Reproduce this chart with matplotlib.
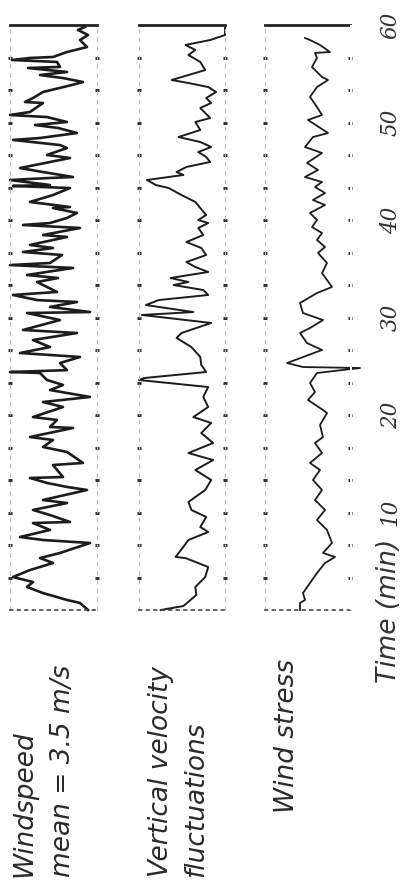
import matplotlib
matplotlib.use("Agg")
import matplotlib.pyplot as plt
import numpy as np

# ---------------- data ----------------
# time in minutes, values: windspeed (m/s), vertical velocity fluct. (arb.), wind stress (arb.)
ws_time = [0.0, 0.72, 1.03, 1.74, 2.36, 2.87, 3.38, 4.10, 4.82, 5.33, 5.85, 6.87, 7.18, 7.49,
           8.21, 8.92, 9.03, 9.74, 10.26, 10.97, 11.28, 12.31, 12.62, 13.03, 13.54, 13.64,
           14.87, 15.08, 16.21, 16.72, 17.44, 17.74, 18.67, 18.77, 19.49, 19.79, 20.82, 21.33,
           21.85, 22.56, 23.08, 23.59, 24.31, 24.41, 24.60, 25.33, 25.95, 26.36, 26.97, 27.69,
           28.41, 28.72, 29.74, 30.46, 30.56, 31.08, 31.59, 31.79, 32.31, 32.62, 33.64, 34.05,
           34.36, 35.08, 35.38, 35.59, 36.41, 36.72, 37.13, 37.44, 38.26, 38.46, 39.18, 39.49,
           39.69, 40.21, 40.72, 41.23, 41.33, 41.85, 42.56, 43.28, 43.49, 43.59, 44.10, 44.31,
           44.41, 44.92, 45.33, 46.36, 46.67, 47.38, 47.69, 48.21, 48.41, 48.92, 49.44, 49.74,
           50.05, 50.56, 50.77, 51.08, 52.00, 52.10, 52.51, 53.13, 53.85, 54.15, 54.56, 54.87,
           55.18, 55.59, 55.70, 56.21, 56.41, 56.62, 56.72, 57.23, 57.74, 58.46, 58.97, 59.49,
           59.80]
windspeed = [2.45, 2.69, 3.08, 3.80, 4.28, 4.10, 4.70, 4.19, 3.50, 3.89, 3.29, 2.39, 3.80, 4.49,
             3.59, 4.10, 2.99, 3.59, 4.10, 3.08, 3.80, 2.48, 3.08, 3.68, 4.19, 3.20,
             3.50, 2.60, 3.08, 3.80, 3.50, 4.19, 2.90, 3.59, 3.38, 4.10, 3.20, 3.80,
             2.39, 3.59, 3.20, 3.68, 3.89, 4.79, 3.08, 3.29, 2.69, 4.49, 3.59, 4.10,
             2.78, 4.40, 3.29, 4.28, 2.39, 3.59, 2.78, 3.98, 4.70, 3.38, 3.98, 3.35,
             4.28, 2.90, 4.79, 3.59, 3.23, 4.40, 3.50, 4.19, 3.08, 3.80, 2.69, 4.40,
             3.59, 3.08, 2.78, 3.50, 2.99, 4.19, 3.50, 2.99, 4.70, 3.59, 4.79, 3.59,
             2.90, 3.80, 4.49, 2.99, 3.68, 3.08, 3.29, 4.70, 3.89, 2.78, 3.35, 4.04,
             3.08, 3.68, 4.79, 4.19, 3.80, 4.34, 4.10, 3.80, 2.93, 2.60, 3.20, 3.89,
             3.08, 4.25, 3.29, 3.38, 4.73, 4.19, 3.50, 3.08, 2.48, 2.69, 2.45, 2.75,
             2.54]

vv_time = [0.0, 0.41, 1.54, 2.36, 3.38, 4.41, 5.33, 5.44, 6.36, 7.18, 8.00, 8.51, 9.54, 10.26,
           11.08, 12.31, 13.33, 14.36, 15.38, 16.10, 17.13, 18.15, 19.18, 19.79, 20.82, 21.85,
           22.87, 23.59, 23.79, 24.41, 25.13, 25.95, 26.97, 27.90, 28.41, 29.44, 30.26, 30.56,
           31.28, 31.79, 32.31, 32.82, 33.33, 33.64, 34.05, 34.67, 35.18, 35.69, 36.41, 37.13,
           37.74, 38.46, 39.18, 39.69, 40.00, 40.51, 41.23, 41.85, 42.56, 43.28, 43.59, 44.10,
           44.62, 44.92, 45.44, 45.95, 46.46, 46.97, 47.49, 48.00, 48.51, 49.23, 50.05, 50.46,
           50.97, 51.49, 52.00, 52.51, 53.13, 53.64, 54.05, 54.36, 55.08, 55.38, 56.21, 56.92,
           57.44, 57.95, 58.46, 58.97, 59.70]
vertical_velocity = [1.5, 0.35, -0.3, -0.25, -0.75, -0.9, 0.25, 0.75, 0.4, 0.1, -0.9, -0.5, -0.8, -0.05,
                     0.1, -0.75, -1.05, -0.25, -1.15, 0.1, -1.15, -0.55, -1.05, -0.15, -0.9, -0.65,
                     -0.9, 2.6, 2.35, -0.8, -0.55, -0.5, -0.05, 0.7, 0.45, -1.05, 2.45, -0.15,
                     2.25, 1.6, -0.9, -0.65, 0.85, 0.1, 1.0, -0.9, -0.25, 0.2, -0.8, -0.55,
                     0.2, -0.65, -0.4, -0.9, -0.4, -0.8, -0.5, -0.25, 0.45, 1.1, 1.75, 2.2,
                     0.35, 0.7, 0.2, -1.0, -0.8, -0.4, -1.05, -0.5, 0.6, -0.5, -0.25, -1.0,
                     -0.75, -0.5, -1.05, -0.8, -1.3, -0.9, 0.1, 0.95, -0.25, -0.75, -0.5, 0.1,
                     -0.25, 0.25, -1.0, -1.75, -1.75]

st_time = [0.0, 0.72, 1.03, 1.74, 2.77, 3.79, 4.82, 5.44, 5.85, 6.87, 8.21, 9.23, 10.26, 11.28,
           12.31, 13.33, 14.36, 15.08, 16.10, 17.13, 17.74, 18.97, 20.20, 20.51, 21.54, 22.36,
           23.28, 24.31, 24.82, 24.92, 25.33, 26.67, 27.38, 28.41, 28.92, 29.74, 30.46, 31.49,
           32.51, 33.13, 34.56, 35.59, 36.62, 37.23, 37.95, 38.67, 39.28, 40.00, 40.72, 41.54,
           42.05, 42.77, 43.38, 43.90, 44.41, 45.13, 45.85, 46.87, 47.49, 48.51, 48.92, 50.26,
           50.77, 51.59, 52.62, 53.64, 54.36, 54.67, 55.69, 56.62, 57.13, 57.23, 57.95, 58.46,
           58.67]
wind_stress = [0.45, 0.45, 0.40, 0.42, 0.35, 0.28, 0.20, 0.10, 0.22, 0.13, 0.18, 0.28, 0.20, 0.30,
               0.23, 0.32, 0.25, 0.35, 0.23, 0.30, 0.22, 0.25, 0.18, 0.22, 0.37, 0.30,
               0.35, 0.28, -0.15, 0.42, 0.58, 0.23, 0.38, 0.45, 0.35, 0.22, 0.42, 0.45,
               0.28, 0.13, 0.23, 0.18, 0.27, 0.20, 0.28, 0.23, 0.33, 0.28, 0.35, 0.20,
               0.32, 0.20, 0.30, 0.23, 0.40, 0.27, 0.38, 0.23, 0.40, 0.32, 0.17, 0.37,
               0.23, 0.28, 0.35, 0.28, 0.17, 0.23, 0.33, 0.28, 0.30, 0.15, 0.25, 0.35,
               0.40]

time_ticks = [10, 20, 30, 40, 50, 60]
time_tick_labels = ["10", "20", "30", "40", "50", "60"]
grid_marks = [k * 10 / 3 for k in range(1, 18)]

panel_labels = [["Windspeed", "mean = 3.5 m/s"], ["Vertical velocity", "fluctuations"], ["Wind stress"]]

# ---------------- figure ----------------
W, H = 403, 882
fig = plt.figure(figsize=(W / 100, H / 100), dpi=100)
fig.patch.set_facecolor("white")

def px_axes(x0, x1, ytop=25, ybot=610):
    return fig.add_axes([x0 / W, 1 - ybot / H, (x1 - x0) / W, (ybot - ytop) / H])

ink = "#1c1c1c"
panels = [
    (10, 97, ws_time, windspeed, (4.79, 2.18), 1.9),
    (139, 225, vv_time, vertical_velocity, (2.6, -1.75), 1.4),
    (265, 350, st_time, wind_stress, (0.80, -0.05), 1.3),
]
axes = []
for x0, x1, t, v, xl, lw in panels:
    ax = px_axes(x0, x1)
    ax.plot(v, t, color=ink, lw=lw, solid_joinstyle="round", clip_on=False)
    ax.set_xlim(*xl)
    ax.set_ylim(0, 60)
    ax.set_xticks([])
    ax.set_yticks(grid_marks)
    ax.tick_params(axis="y", which="both", left=True, right=True, direction="inout",
                   length=2.5, width=2.2, color="#333333", labelleft=False, labelright=False)
    ax.spines["top"].set_linewidth(2.0)
    ax.spines["top"].set_color("#222222")
    ax.spines["bottom"].set_linestyle((0, (1.5, 3)))
    ax.spines["bottom"].set_color("#444444")
    ax.spines["bottom"].set_linewidth(1.2)
    for s in ("left", "right"):
        ax.spines[s].set_linestyle((0, (3, 5)))
        ax.spines[s].set_color("#bbbbbb")
        ax.spines[s].set_linewidth(0.8)
    ax.patch.set_alpha(0)
    axes.append(ax)

# time axis labels on the right of the last panel
axt = px_axes(350, 352)
axt.set_ylim(0, 60)
axt.set_xticks([])
for s in axt.spines.values():
    s.set_visible(False)
axt.yaxis.tick_right()
axt.set_yticks(time_ticks)
axt.set_yticklabels(time_tick_labels, rotation=90, va="center", ha="left",
                    fontsize=15.5, fontstyle="italic", family="DejaVu Serif", color="#333333")
axt.tick_params(axis="y", length=0, pad=20)

fig.text(389 / W, 1 - 683 / H, "Time (min)", rotation=90, ha="center", va="bottom",
         fontsize=19, fontstyle="italic", family="DejaVu Sans", color="#333333")

lab_kw = dict(rotation=90, ha="center", va="bottom", fontsize=19, fontstyle="italic",
              family="DejaVu Sans", color="#2a2a2a")
fig.text(24 / W, 1 - 877 / H, panel_labels[0][0], **lab_kw)
fig.text(63 / W, 1 - 877 / H, panel_labels[0][1], **lab_kw)
fig.text(161 / W, 1 - 877 / H, panel_labels[1][0], **lab_kw)
fig.text(196 / W, 1 - 877 / H, panel_labels[1][1], **lab_kw)
fig.text(287 / W, 1 - 813 / H, panel_labels[2][0], **lab_kw)

fig.savefig("out.png", dpi=100, facecolor="white")
